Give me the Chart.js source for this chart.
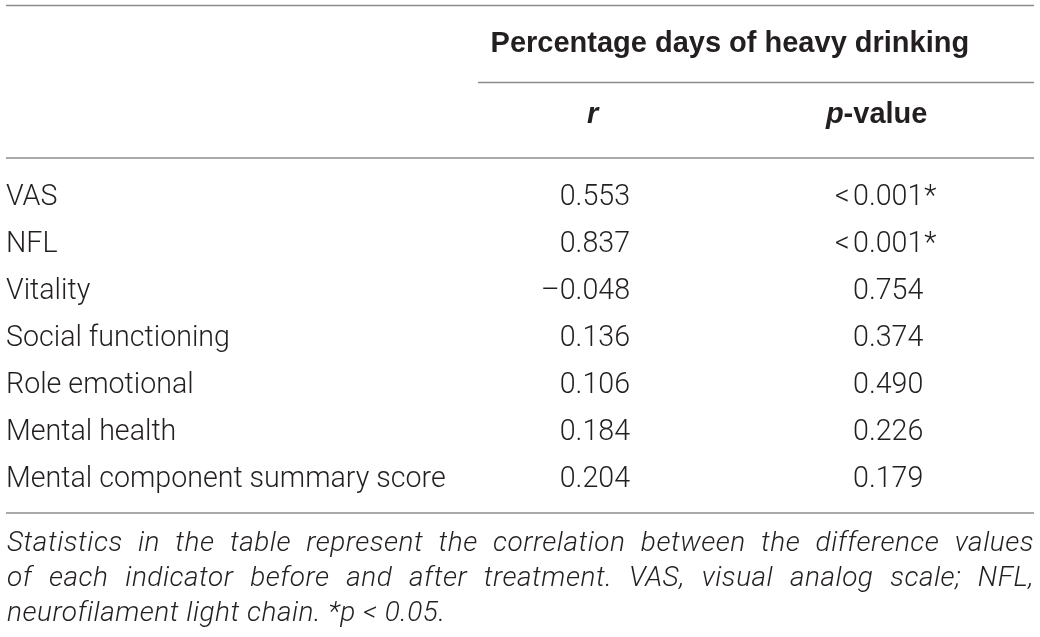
<!DOCTYPE html>
<html lang="en">
<head>
<meta charset="utf-8">
<script src="https://cdn.jsdelivr.net/npm/chart.js@4.4.1/dist/chart.umd.min.js"></script>
<style>
  html, body { margin: 0; padding: 0; background: #fff; }
</style>
</head>
<body>
<canvas id="table" width="1040" height="637"></canvas>
<script>
    // table content
    var rowLabels = ['VAS', 'NFL', 'Vitality', 'Social functioning', 'Role emotional', 'Mental health', 'Mental component summary score'];
    var rValues = [0.553, 0.837, -0.048, 0.136, 0.106, 0.184, 0.204];
    var pValues = [0.001, 0.001, 0.754, 0.374, 0.490, 0.226, 0.179];
    var pBelow = [true, true, false, false, false, false, false];
    var groupTitle = 'Percentage days of heavy drinking';
    var noteLines = [
        'Statistics in the table represent the correlation between the difference values',
        'of each indicator before and after treatment. VAS, visual analog scale; NFL,',
        'neurofilament light chain. *p < 0.05.'
    ];

    // column anchors on the hidden 0..1 x scale (spans the group header)
    var COL = { rRight: 0.2734, pLeft: 0.6745, rHead: 0.206, pHead: 0.717, group: 0.453 };
    var INK = '#231f20';
    var RULE = '#8c8c8c';
    var BODY = '300 28.6px Roboto';

    function fmt(v) {
        return (v < 0 ? '\u2013' : '') + Math.abs(v).toFixed(3);
    }

    function justify(ctx, text, left, right, y, last) {
        if (last) { ctx.fillText(text, left, y); return; }
        var words = text.split(' ');
        var total = 0;
        words.forEach(function (w) { total += ctx.measureText(w).width; });
        var gap = (right - left - total) / (words.length - 1);
        var cx = left;
        words.forEach(function (w) {
            ctx.fillText(w, cx, y);
            cx += ctx.measureText(w).width + gap;
        });
    }

    function rule(ctx, x0, x1, y) {
        ctx.beginPath();
        ctx.moveTo(x0, y);
        ctx.lineTo(x1, y);
        ctx.stroke();
    }

    var tablePlugin = {
        id: 'tableText',
        afterDatasetsDraw: function (chart) {
            var ctx = chart.ctx;
            ctx.save();
            ctx.fillStyle = INK;
            ctx.font = BODY;
            ctx.textBaseline = 'middle';
            chart.getDatasetMeta(0).data.forEach(function (el, i) {
                ctx.textAlign = 'right';
                ctx.fillText(fmt(rValues[i]), el.x, el.y);
            });
            chart.getDatasetMeta(1).data.forEach(function (el, i) {
                var s = pValues[i].toFixed(3);
                ctx.textAlign = 'left';
                ctx.fillText(s, el.x, el.y);
                if (pBelow[i]) {
                    ctx.textAlign = 'right';
                    ctx.fillText('<', el.x - 3.5, el.y);
                }
                if (pValues[i] < 0.05) {
                    ctx.textAlign = 'left';
                    ctx.fillText('*', el.x + ctx.measureText(s).width + 1, el.y);
                }
            });
            ctx.restore();
        },
        afterDraw: function (chart) {
            var ctx = chart.ctx, area = chart.chartArea, xs = chart.scales.x;
            var full0 = 6, full1 = chart.width - 6;
            ctx.save();
            ctx.strokeStyle = RULE;
            ctx.lineWidth = 1.5;
            rule(ctx, full0, full1, 5.5);
            rule(ctx, area.left, area.right, 82.5);
            rule(ctx, full0, full1, area.top - 16);
            rule(ctx, full0, full1, area.bottom + 10);

            ctx.fillStyle = INK;
            ctx.textBaseline = 'alphabetic';
            ctx.textAlign = 'center';
            ctx.font = 'bold 29px "Liberation Sans"';
            ctx.fillText(groupTitle, xs.getPixelForValue(COL.group), 52);

            ctx.font = 'italic bold 29px "Liberation Sans"';
            ctx.fillText('r', xs.getPixelForValue(COL.rHead), 123);

            // p-value header: italic p + bold "-value"
            ctx.textAlign = 'left';
            var pw = ctx.measureText('p').width;
            ctx.font = 'bold 29px "Liberation Sans"';
            var vw = ctx.measureText('-value').width;
            var px = xs.getPixelForValue(COL.pHead) - (pw + vw) / 2;
            ctx.font = 'italic bold 29px "Liberation Sans"';
            ctx.fillText('p', px, 123);
            ctx.font = 'bold 29px "Liberation Sans"';
            ctx.fillText('-value', px + pw, 123);

            ctx.font = 'italic 300 28px Roboto';
            ctx.letterSpacing = '0.5px';
            noteLines.forEach(function (line, i) {
                justify(ctx, line, full0 + 1, full1, 551 + i * 35, i === noteLines.length - 1);
            });
            ctx.restore();
        }
    };

    var ctx = document.getElementById('table').getContext('2d');
    new Chart(ctx, {
        type: 'scatter',
        data: {
            labels: rowLabels,
            datasets: [{
                label: 'r',
                data: rowLabels.map(function (l) { return { x: COL.rRight, y: l }; }),
                pointRadius: 0
            }, {
                label: 'p-value',
                data: rowLabels.map(function (l) { return { x: COL.pLeft, y: l }; }),
                pointRadius: 0
            }]
        },
        options: {
            responsive: false,
            animation: false,
            events: [],
            layout: { padding: { left: 6, right: 6, top: 174, bottom: 134 } },
            plugins: { legend: { display: false }, tooltip: { enabled: false } },
            scales: {
                x: { type: 'linear', min: 0, max: 1, display: false },
                y: {
                    type: 'category',
                    labels: rowLabels,
                    offset: true,
                    grid: { display: false, drawTicks: false },
                    border: { display: false },
                    ticks: {
                        crossAlign: 'far',
                        padding: 0,
                        color: INK,
                        font: { family: 'Roboto', size: 28.6, weight: '300' }
                    },
                    afterFit: function (axis) { axis.width = 472; }
                }
            }
        },
        plugins: [tablePlugin]
    });
</script>
</body>
</html>
